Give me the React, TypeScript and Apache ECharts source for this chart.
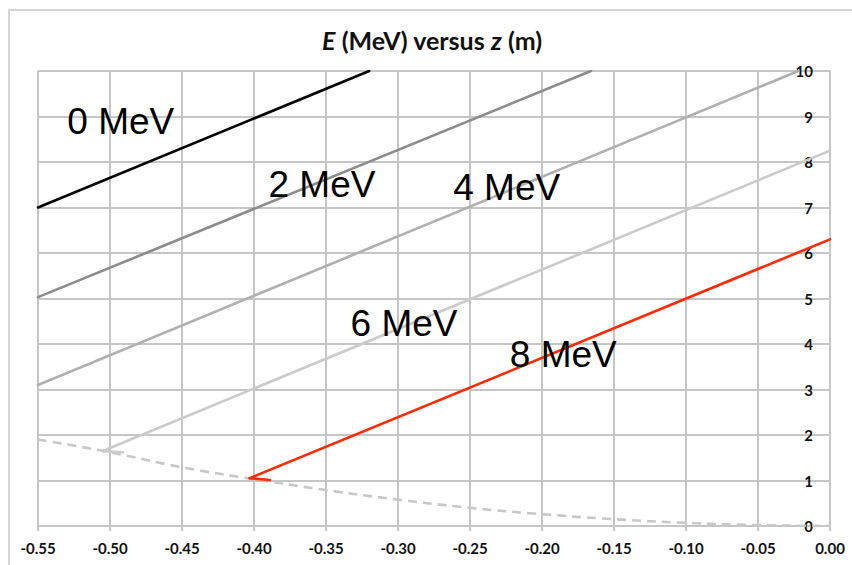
import React, { useEffect, useRef } from "react";
import * as echarts from "echarts";

// Kinetic energy E (MeV) against position z (m) for particles launched at different energies
const zTicks = { min: -0.55, max: 0, step: 0.05 };
const eTicks = { min: 0, max: 10, step: 1 };

const line0MeV: [number, number][] = [[-0.55, 7.0], [-0.32, 10.0]];
const line2MeV: [number, number][] = [[-0.55, 5.03], [-0.166, 10.0]];
const line4MeV: [number, number][] = [[-0.55, 3.1], [-0.022, 10.0]];
const line6MeV: [number, number][] = [[-0.505, 1.65], [0.0, 8.25]];
const line8MeV: [number, number][] = [[-0.403, 1.05], [0.0, 6.3]];

// short arrow barbs at the turning points
const barb6MeV: [number, number][] = [[-0.505, 1.65], [-0.491, 1.62]];
const barb8MeV: [number, number][] = [[-0.403, 1.05], [-0.389, 1.01]];

// turning-point envelope (dashed)
const envelope: [number, number][] = [
  [-0.55, 1.9], [-0.5, 1.62], [-0.45, 1.29], [-0.4, 1.03], [-0.35, 0.79],
  [-0.3, 0.58], [-0.25, 0.4], [-0.2, 0.26], [-0.15, 0.15], [-0.1, 0.07],
  [-0.05, 0.02], [0.0, 0.0],
];

const lineLabels = ["0 MeV", "2 MeV", "4 MeV", "6 MeV", "8 MeV"];
const lineLabelAt: [number, number][] = [
  [-0.4925, 8.88], [-0.3528, 7.51], [-0.2245, 7.45], [-0.2958, 4.44], [-0.1852, 3.76],
];

const gridGray = "#c6c6c6";
const tickFont = { fontFamily: "Lato", fontWeight: "bold" as const, fontSize: 15, color: "#111111" };

export default function App() {
  const ref = useRef<HTMLDivElement>(null);

  useEffect(() => {
    document.body.style.margin = "0";
    const chart = echarts.init(ref.current!, undefined, { renderer: "svg" });

    const solid = (data: [number, number][], color: string, width = 2.6) => ({
      type: "line",
      data,
      symbol: "none",
      silent: true,
      lineStyle: { color, width, cap: "round" },
    });

    chart.setOption({
      animation: false,
      backgroundColor: "#ffffff",
      grid: { left: 38, right: 22, top: 71, bottom: 39, containLabel: false },
      graphic: [
        {
          type: "rect",
          shape: { x: 9, y: 10, width: 900, height: 600 },
          style: { fill: "none", stroke: "#d6d6d6", lineWidth: 2 },
          silent: true,
        },
        {
          type: "text",
          x: 432,
          y: 40,
          style: {
            text: "{i|E}{n| (MeV) versus }{i|z}{n| (m)}",
            textAlign: "center",
            textVerticalAlign: "middle",
            rich: {
              i: { fontFamily: "Lato", fontWeight: "bold", fontStyle: "italic", fontSize: 25, fill: "#111111" },
              n: { fontFamily: "Lato", fontWeight: "bold", fontSize: 25, fill: "#111111" },
            },
          },
        },
      ],
      xAxis: {
        type: "value",
        min: zTicks.min,
        max: zTicks.max,
        interval: zTicks.step,
        axisLine: { show: true, onZero: false, lineStyle: { color: gridGray, width: 2 } },
        axisTick: { show: true, length: 5, lineStyle: { color: gridGray, width: 2 } },
        splitLine: { show: true, lineStyle: { color: gridGray, width: 2 } },
        axisLabel: { ...tickFont, margin: 14, formatter: (v: number) => v.toFixed(2) },
      },
      yAxis: {
        type: "value",
        position: "right",
        min: eTicks.min,
        max: eTicks.max,
        interval: eTicks.step,
        axisLine: { show: true, onZero: false, lineStyle: { color: gridGray, width: 2 } },
        axisTick: { show: false },
        splitLine: { show: true, lineStyle: { color: gridGray, width: 2 } },
        axisLabel: { ...tickFont, inside: true, margin: 17, formatter: (v: number) => String(v) },
      },
      series: [
        {
          type: "line",
          data: envelope,
          smooth: true,
          symbol: "none",
          silent: true,
          lineStyle: { color: "#c8c8c8", width: 2.6, type: [9, 6] },
        },
        solid(line0MeV, "#000000"),
        solid(line2MeV, "#8c8c8c"),
        solid(line4MeV, "#b0b0b0"),
        solid(line6MeV, "#cbcbcb"),
        solid(barb6MeV, "#cbcbcb"),
        solid(line8MeV, "#ff2a00"),
        solid(barb8MeV, "#ff2a00"),
        {
          type: "scatter",
          symbolSize: 0,
          silent: true,
          itemStyle: { opacity: 1 },
          data: lineLabelAt.map((p, i) => ({ value: p, name: lineLabels[i] })),
          label: {
            show: true,
            position: "inside",
            formatter: (p: any) => p.name,
            fontFamily: "Liberation Sans",
            fontSize: 37,
            color: "#000000",
            opacity: 1,
          },
          z: 5,
        },
      ],
    });

    return () => chart.dispose();
  }, []);

  return <div ref={ref} style={{ width: 852, height: 565 }} />;
}
